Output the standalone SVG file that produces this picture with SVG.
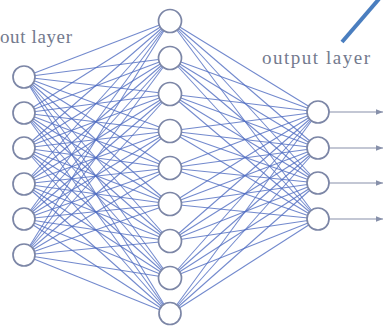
<svg xmlns="http://www.w3.org/2000/svg" width="385" height="326" viewBox="0 0 385 326">
<defs>
<style>
.conn line{stroke:#4f6cc0;stroke-width:1.05;stroke-opacity:0.8}
.node circle{fill:#ffffff;stroke:#7c86a6;stroke-width:1.7}
.lbl{font-family:"Liberation Serif","DejaVu Serif",serif;font-size:19px;fill:#737a8e}
</style>
<marker id="ah" markerWidth="8" markerHeight="8" refX="7" refY="4" orient="auto" markerUnits="userSpaceOnUse">
<path d="M0,1.2 L7,4 L0,6.8 Z" fill="#8790aa"/>
</marker>
</defs>
<rect width="385" height="326" fill="#ffffff"/>
<g id="connectors" class="conn">
<line x1="24" y1="77" x2="170" y2="21"/><line x1="24" y1="77" x2="170" y2="58"/><line x1="24" y1="77" x2="170" y2="94"/><line x1="24" y1="77" x2="170" y2="131"/><line x1="24" y1="77" x2="170" y2="168"/><line x1="24" y1="77" x2="170" y2="204"/><line x1="24" y1="77" x2="170" y2="241"/><line x1="24" y1="77" x2="170" y2="278"/><line x1="24" y1="77" x2="170" y2="314"/>
<line x1="24" y1="113" x2="170" y2="21"/><line x1="24" y1="113" x2="170" y2="58"/><line x1="24" y1="113" x2="170" y2="94"/><line x1="24" y1="113" x2="170" y2="131"/><line x1="24" y1="113" x2="170" y2="168"/><line x1="24" y1="113" x2="170" y2="204"/><line x1="24" y1="113" x2="170" y2="241"/><line x1="24" y1="113" x2="170" y2="278"/><line x1="24" y1="113" x2="170" y2="314"/>
<line x1="24" y1="148" x2="170" y2="21"/><line x1="24" y1="148" x2="170" y2="58"/><line x1="24" y1="148" x2="170" y2="94"/><line x1="24" y1="148" x2="170" y2="131"/><line x1="24" y1="148" x2="170" y2="168"/><line x1="24" y1="148" x2="170" y2="204"/><line x1="24" y1="148" x2="170" y2="241"/><line x1="24" y1="148" x2="170" y2="278"/><line x1="24" y1="148" x2="170" y2="314"/>
<line x1="24" y1="184" x2="170" y2="21"/><line x1="24" y1="184" x2="170" y2="58"/><line x1="24" y1="184" x2="170" y2="94"/><line x1="24" y1="184" x2="170" y2="131"/><line x1="24" y1="184" x2="170" y2="168"/><line x1="24" y1="184" x2="170" y2="204"/><line x1="24" y1="184" x2="170" y2="241"/><line x1="24" y1="184" x2="170" y2="278"/><line x1="24" y1="184" x2="170" y2="314"/>
<line x1="24" y1="219" x2="170" y2="21"/><line x1="24" y1="219" x2="170" y2="58"/><line x1="24" y1="219" x2="170" y2="94"/><line x1="24" y1="219" x2="170" y2="131"/><line x1="24" y1="219" x2="170" y2="168"/><line x1="24" y1="219" x2="170" y2="204"/><line x1="24" y1="219" x2="170" y2="241"/><line x1="24" y1="219" x2="170" y2="278"/><line x1="24" y1="219" x2="170" y2="314"/>
<line x1="24" y1="255" x2="170" y2="21"/><line x1="24" y1="255" x2="170" y2="58"/><line x1="24" y1="255" x2="170" y2="94"/><line x1="24" y1="255" x2="170" y2="131"/><line x1="24" y1="255" x2="170" y2="168"/><line x1="24" y1="255" x2="170" y2="204"/><line x1="24" y1="255" x2="170" y2="241"/><line x1="24" y1="255" x2="170" y2="278"/><line x1="24" y1="255" x2="170" y2="314"/>
<line x1="170" y1="21" x2="318" y2="112"/><line x1="170" y1="21" x2="318" y2="148"/><line x1="170" y1="21" x2="318" y2="183"/><line x1="170" y1="21" x2="318" y2="219"/>
<line x1="170" y1="58" x2="318" y2="112"/><line x1="170" y1="58" x2="318" y2="148"/><line x1="170" y1="58" x2="318" y2="183"/><line x1="170" y1="58" x2="318" y2="219"/>
<line x1="170" y1="94" x2="318" y2="112"/><line x1="170" y1="94" x2="318" y2="148"/><line x1="170" y1="94" x2="318" y2="183"/><line x1="170" y1="94" x2="318" y2="219"/>
<line x1="170" y1="131" x2="318" y2="112"/><line x1="170" y1="131" x2="318" y2="148"/><line x1="170" y1="131" x2="318" y2="183"/><line x1="170" y1="131" x2="318" y2="219"/>
<line x1="170" y1="168" x2="318" y2="112"/><line x1="170" y1="168" x2="318" y2="148"/><line x1="170" y1="168" x2="318" y2="183"/><line x1="170" y1="168" x2="318" y2="219"/>
<line x1="170" y1="204" x2="318" y2="112"/><line x1="170" y1="204" x2="318" y2="148"/><line x1="170" y1="204" x2="318" y2="183"/><line x1="170" y1="204" x2="318" y2="219"/>
<line x1="170" y1="241" x2="318" y2="112"/><line x1="170" y1="241" x2="318" y2="148"/><line x1="170" y1="241" x2="318" y2="183"/><line x1="170" y1="241" x2="318" y2="219"/>
<line x1="170" y1="278" x2="318" y2="112"/><line x1="170" y1="278" x2="318" y2="148"/><line x1="170" y1="278" x2="318" y2="183"/><line x1="170" y1="278" x2="318" y2="219"/>
<line x1="170" y1="314" x2="318" y2="112"/><line x1="170" y1="314" x2="318" y2="148"/><line x1="170" y1="314" x2="318" y2="183"/><line x1="170" y1="314" x2="318" y2="219"/>
<line x1="329" y1="112" x2="383" y2="112" marker-end="url(#ah)" style="stroke:#8790aa;stroke-opacity:1;stroke-width:1.2"/>
<line x1="329" y1="148" x2="383" y2="148" marker-end="url(#ah)" style="stroke:#8790aa;stroke-opacity:1;stroke-width:1.2"/>
<line x1="329" y1="183" x2="383" y2="183" marker-end="url(#ah)" style="stroke:#8790aa;stroke-opacity:1;stroke-width:1.2"/>
<line x1="329" y1="219" x2="383" y2="219" marker-end="url(#ah)" style="stroke:#8790aa;stroke-opacity:1;stroke-width:1.2"/>
</g>
<g id="input-layer" class="node">
<circle id="i1" cx="24" cy="77" r="11"/><circle id="i2" cx="24" cy="113" r="11"/><circle id="i3" cx="24" cy="148" r="11"/><circle id="i4" cx="24" cy="184" r="11"/><circle id="i5" cx="24" cy="219" r="11"/><circle id="i6" cx="24" cy="255" r="11"/>
</g>
<g id="hidden-layer" class="node">
<circle id="h1" cx="170" cy="21" r="11.5"/><circle id="h2" cx="170" cy="58" r="11.5"/><circle id="h3" cx="170" cy="94" r="11.5"/><circle id="h4" cx="170" cy="131" r="11.5"/><circle id="h5" cx="170" cy="168" r="11.5"/><circle id="h6" cx="170" cy="204" r="11.5"/><circle id="h7" cx="170" cy="241" r="11.5"/><circle id="h8" cx="170" cy="278" r="11.5"/><circle id="h9" cx="170" cy="313.5" r="11"/>
</g>
<g id="output-layer" class="node">
<circle id="o1" cx="318" cy="112" r="11"/><circle id="o2" cx="318" cy="148" r="11"/><circle id="o3" cx="318" cy="183" r="11"/><circle id="o4" cx="318" cy="219" r="11"/>
</g>
<g id="labels">
<text class="lbl" x="0" y="43" textLength="72" lengthAdjust="spacing">out layer</text>
<text class="lbl" x="262" y="64" textLength="108" lengthAdjust="spacing">output layer</text>
</g>
<line id="pointer" x1="342" y1="42" x2="379" y2="-1" stroke="#4a7ebf" stroke-width="4"/>
</svg>
